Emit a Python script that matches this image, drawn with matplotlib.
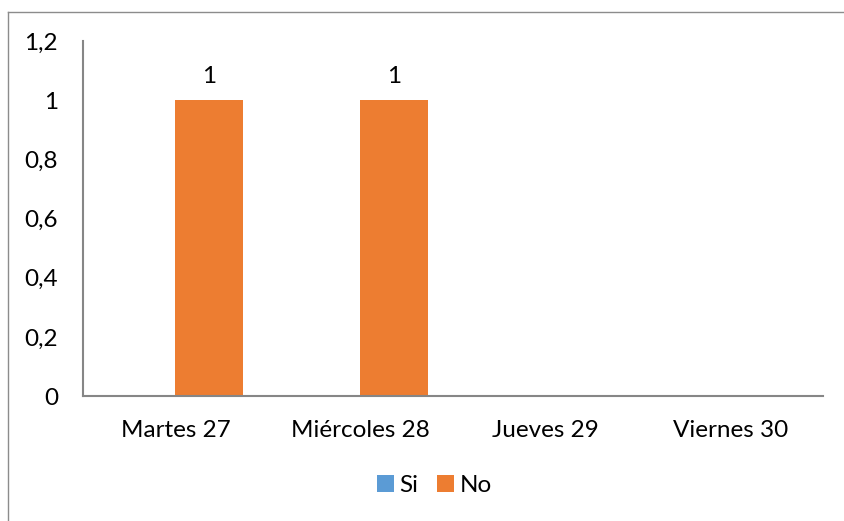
import numpy as np
import matplotlib.pyplot as plt
from matplotlib.lines import Line2D

dias = ["Martes 27", "Miércoles 28", "Jueves 29", "Viernes 30"]
si = [0, 0, 0, 0]
no = [1, 1, 0, 0]
yticks = [0, 0.2, 0.4, 0.6, 0.8, 1, 1.2]

plt.rcParams['font.family'] = ['Lato', 'DejaVu Sans']
fs = 17.5

fig = plt.figure(figsize=(8.45, 5.21), dpi=100)
ax = fig.add_axes([0.0982, 0.2399, 0.8758, 0.6814])

x = np.arange(len(dias))
w = 0.367
ax.bar(x - w / 2, si, w, color="#5B9BD5", label="Si")
bars = ax.bar(x + w / 2, no, w, color="#ED7D31", label="No")

for b, v in zip(bars, no):
    if v > 0:
        ax.text(b.get_x() + b.get_width() / 2, v + 0.045, str(v),
                ha="center", va="bottom", fontsize=fs)

ax.set_xlim(-0.5, len(dias) - 0.5)
ax.set_ylim(0, 1.2)
ax.set_yticks(yticks)
ax.set_yticklabels([str(t).replace(".", ",") for t in yticks])
ax.set_xticks(x)
ax.set_xticklabels(dias)
ax.tick_params(axis="y", length=0, pad=18, labelsize=fs)
ax.tick_params(axis="x", length=0, pad=17, labelsize=fs)

for s in ["top", "right"]:
    ax.spines[s].set_visible(False)
for s in ["left", "bottom"]:
    ax.spines[s].set_color("#868686")
    ax.spines[s].set_linewidth(1.5)

ax.legend(loc="center", bbox_to_anchor=(0.514, 0.069), bbox_transform=fig.transFigure,
          ncol=2, frameon=False, fontsize=fs, handlelength=0.7, handleheight=0.7,
          handletextpad=0.2, columnspacing=0.8)

# border around the chart area
fig.add_artist(Line2D([8 / 845, 8 / 845], [0, 1 - 11.5 / 521], transform=fig.transFigure,
                      color="#8C8C8C", lw=1))
fig.add_artist(Line2D([8 / 845, 1], [1 - 11.5 / 521, 1 - 11.5 / 521], transform=fig.transFigure,
                      color="#8C8C8C", lw=1))

fig.savefig("out.png", dpi=100)
